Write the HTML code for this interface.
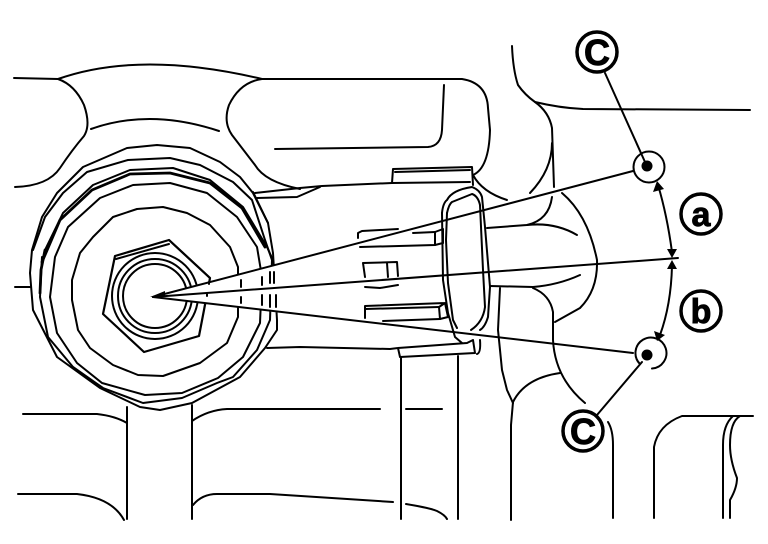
<!DOCTYPE html>
<html><head><meta charset="utf-8"><style>
html,body{margin:0;padding:0;background:#fff;width:768px;height:544px;overflow:hidden}
svg{display:block}
.l{fill:none;stroke:#000;stroke-width:2;stroke-linejoin:round;stroke-linecap:round}
.t{font-family:"Liberation Sans",sans-serif;font-weight:bold;text-anchor:middle;fill:#000;stroke:#000;stroke-width:.9}
</style></head><body>
<svg width="768" height="544" viewBox="0 0 768 544" xmlns="http://www.w3.org/2000/svg">
<rect width="768" height="544" fill="#fff"/>
<g class="l">
<!-- upper housing -->
<path d="M14,78 L58,79 Q140,50 262,79 L300,79 L462,79 Q487,83 488,108 L490,130 Q489,168 473,175"/>
<path d="M58,79 Q75,85 84,105 Q91,125 84,136 Q72,150 60,168 Q48,186 15,187"/>
<path d="M91,129 Q150,108 219,131"/>
<path d="M262,79 Q240,82 229,105 Q223,122 232,135 L255,165 Q265,182 300,189"/>
<path d="M275,149 L428,147 Q441,146 442,130 L444,85"/>
<path d="M255,193 L300,188 L322,186 L392,183 L470,182"/>
<path d="M253,192 L268,223"/>
<path d="M257,198 L297,197 L320,187"/>
<!-- rings -->
<polygon points="32,250 42,217 57,193 83,167 127,148 157,145 190,148 220,162 240,177 253,193 268,223 273,253 277,320 277,330 265,348 240,377 192,403 160,410 140,407 100,388 57,357 33,310 30,273"/>
<polyline points="33,250 45,217 63,193 87,172 128,160 170,158 200,165 233,182 252,200 265,240 272,260 270,320 257,350 233,377 217,383 182,398 143,403 103,388 73,367 48,337 40,297 42,257"/>
<polyline points="45,250 63,213 93,185 130,170 173,168 210,180 243,207 267,247 273,260"/>
<polyline stroke-width="2.8" points="42,262 60,220 92,190 130,174 170,173 210,183 242,208 265,247"/>
<polyline stroke-width="2.8" points="45,250 41,270 40,293"/>
<polygon points="145,395 182,393 218,378 243,357 260,323 262,277 257,247 237,217 207,193 170,183 133,185 100,198 68,227 55,257 50,297 57,333 77,363 102,383"/>
<polygon points="163,207 187,213 210,225 230,247 238,267 238,317 227,343 200,363 163,376 138,375 113,365 90,348 78,330 72,300 72,280 80,253 93,237 113,217 137,209"/>
<!-- nut -->
<polygon points="169,240 115,256 103,314 144,352 199,336 204,310 210,278" stroke-width="2.2"/>
<polyline points="169,244 116,259"/>
<polyline points="169,240 210,278"/>
<circle cx="155" cy="296" r="43"/>
<circle cx="155" cy="296" r="37"/>
<circle cx="155" cy="296" r="32"/>
</g>
<polygon points="153,297 290,261 290,314" fill="#fff"/>
<g class="l">
<path d="M241,280V287M241,297V303M262,277V285M262,295V305M270,272V283M274,272V283M270,295V307M276,295V307M209,282V284M207,294V296"/>
<!-- connector -->
<path d="M392,183 L393,169 L472,167 L473,185"/>
<path d="M395,172 L470,170"/>
<path d="M442,213 Q443,203 447,200 Q452,190 472,187 Q480,190 482,197 L485,227 L490,287 L488,317 Q485,327 480,330"/>
<path d="M442,213 L443,280 L448,313 L455,337 L462,343"/>
<path d="M447,213 Q449,204 452,202 L472,194 Q478,196 480,205 L483,270 L485,307 Q483,322 471,330"/>
<path d="M447,213 L446,240 L448,283 L453,320 L457,328"/>
<path d="M358,238 L358,233 L362,231 L398,229"/>
<path d="M413,233 L435,232 L443,229 L443,243"/>
<path d="M435,232 L435,245 L360,247"/>
<path d="M435,245 L443,243"/>
<path d="M365,277 L363,263 L397,262 L398,276"/>
<path d="M387,263 L388,277"/>
<path d="M365,287 L380,288 L398,285"/>
<path d="M365,318 L365,306 L445,303 L439,307 L440,319 L448,317 L445,303"/>
<path d="M383,321 L440,319"/>
<path d="M439,307 L365,309"/>
<path d="M267,348 L300,347 L390,349 L398,348 L467,343 L473,340 L475,353 L400,357 L398,348"/>
<path d="M477,354 Q481,353 480,340"/>
<!-- right structures -->
<path d="M512,46 Q513,70 518,85 Q525,95 535,102 Q549,112 552,128 L554,187"/>
<path d="M535,102 Q560,108 583,109 L750,110"/>
<path d="M552,143 Q552,170 530,193"/>
<path d="M552,197 Q549,220 527,225 L487,228"/>
<path d="M527,225 Q555,222 577,235"/>
<path d="M473,175 Q482,192 507,200"/>
<path d="M562,193 Q588,215 597,260 Q598,290 580,308 L555,322"/>
<path d="M490,286 L533,287 Q558,285 580,275"/>
<path d="M533,288 Q550,295 553,312 L553,340 Q555,378 585,403"/>
<path d="M560,373 Q525,378 513,402 L511,425 L511,520"/>
<path d="M500,288 L498,330 L502,370 L507,390 L513,403"/>
<path d="M608,422 Q613,430 613,445 L613,518"/>
<path d="M654,518 L654,447 Q658,425 682,416 L753,416"/>
<path d="M733,416 Q723,425 723,445 L723,518"/>
<path d="M740,416 Q730,422 730,445 Q730,460 737,478 Q737,488 730,500 L730,518"/>
<!-- lower -->
<path d="M15,287 L30,287"/>
<path d="M23,414 L97,414 Q115,416 127,423"/>
<path d="M127,407 L127,519"/>
<path d="M192,405 L192,519"/>
<path d="M192,421 Q208,410 227,409 L380,409"/>
<path d="M406,409 L442,409"/>
<path d="M401,357 L401,519"/>
<path d="M458,356 L458,519"/>
<path d="M18,494 L77,494 Q112,498 124,520"/>
<path d="M193,505 Q202,494 217,494 L270,494 L393,502"/>
<path d="M406,504 Q430,508 437,511 Q445,515 447,519"/>
<!-- dimension lines -->
<path d="M153,297 L633,171"/>
<path d="M153,297 L678,258"/>
<path d="M153,297 L633,353"/>
<path d="M605,73 L645,162"/>
<path d="M642,362 L597,415"/>
<path d="M658,185 Q667,215 672,252"/>
<path d="M672,266 Q671,305 660,335"/>
<circle cx="649" cy="167" r="15.5"/>
<path d="M640,364 A15.5,15.5 0 1 1 652,368.5"/>
<circle cx="597" cy="52" r="20" stroke-width="3.5"/>
<circle cx="583" cy="431" r="20" stroke-width="3.5"/>
<circle cx="701" cy="214" r="20" stroke-width="3.5"/>
<circle cx="701" cy="311" r="20" stroke-width="3.5"/>
</g>
<polygon points="150,297 165,291 165,297" fill="#000"/>
<circle cx="647" cy="166" r="5.5"/>
<circle cx="647" cy="355" r="5.5"/>
<polygon points="657,181 653,192 664,189"/>
<polygon points="672,258 667,249 677,249"/>
<polygon points="672,260 667,269 677,269"/>
<polygon points="657,341 654,331 665,335"/>
<text class="t" x="597" y="65" font-size="36">C</text>
<text class="t" x="583" y="444" font-size="36">C</text>
<text class="t" x="701" y="226" font-size="34">a</text>
<text class="t" x="701" y="323" font-size="34">b</text>
</svg>
</body></html>
